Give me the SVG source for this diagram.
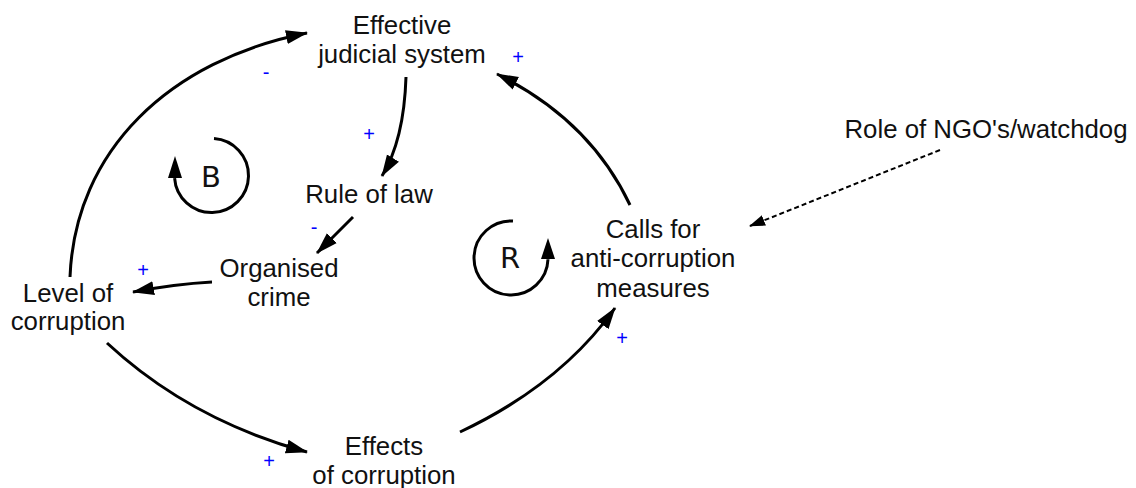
<svg xmlns="http://www.w3.org/2000/svg" width="1136" height="488" viewBox="0 0 1136 488">
<style>
.t{font-family:"Liberation Sans",Arial,sans-serif;font-size:25.8px;fill:#111;text-anchor:middle}
.s{font-family:"Liberation Sans",Arial,sans-serif;font-size:20px;fill:#0000ff;text-anchor:middle}
.c{fill:none;stroke:#000;stroke-width:3}
.d{fill:none;stroke:#000;stroke-width:2;stroke-dasharray:5 3}
.lp{font-family:"DejaVu Sans",sans-serif;font-size:29px;fill:#111;text-anchor:middle}
</style>
<defs>
<marker id="arr" markerUnits="userSpaceOnUse" markerWidth="22" markerHeight="16" viewBox="0 0 22 16" refX="21" refY="8" orient="auto">
<path d="M0,1 L22,8 L0,15 z" fill="#000"/>
</marker>
<marker id="arrs" markerUnits="userSpaceOnUse" markerWidth="16" markerHeight="12" viewBox="0 0 16 12" refX="15" refY="6" orient="auto">
<path d="M0,0.5 L16,6 L0,11.5 z" fill="#000"/>
</marker>
</defs>
<rect width="1136" height="488" fill="#fff"/>
<g id="connectors">
<path class="c" d="M70,277 C75,150 170,60 307,33" marker-end="url(#arr)"/>
<path class="c" d="M406,77 Q404,140 382,176" marker-end="url(#arr)"/>
<path class="c" d="M353,217 L317,253" marker-end="url(#arr)"/>
<path class="c" d="M212,282 Q175,284 133,292" marker-end="url(#arr)"/>
<path class="c" d="M107,343 Q190,420 307,452" marker-end="url(#arr)"/>
<path class="c" d="M460,432 Q560,385 615,308" marker-end="url(#arr)"/>
<path class="c" d="M630,205 Q590,120 497,74" marker-end="url(#arr)"/>
<path class="d" d="M940,150 L750,226" marker-end="url(#arrs)"/>
</g>
<g id="polarities">
<text class="s" x="518" y="64">+</text>
<text class="s" x="266" y="79">-</text>
<text class="s" x="369" y="141">+</text>
<text class="s" x="314" y="234">-</text>
<text class="s" x="143" y="277">+</text>
<text class="s" x="269" y="468">+</text>
<text class="s" x="622" y="345">+</text>
</g>
<g id="node-judicial">
<text class="t" x="402" y="34">Effective</text>
<text class="t" x="402" y="63">judicial system</text>
</g>
<g id="node-rule">
<text class="t" x="369" y="203">Rule of law</text>
</g>
<g id="node-crime">
<text class="t" x="279" y="277">Organised</text>
<text class="t" x="279" y="306">crime</text>
</g>
<g id="node-level">
<text class="t" x="68" y="302">Level of</text>
<text class="t" x="68" y="330">corruption</text>
</g>
<g id="node-effects">
<text class="t" x="384" y="455">Effects</text>
<text class="t" x="384" y="484">of corruption</text>
</g>
<g id="node-calls">
<text class="t" x="653" y="238">Calls for</text>
<text class="t" x="653" y="267">anti-corruption</text>
<text class="t" x="653" y="297">measures</text>
</g>
<g id="node-ngo">
<text class="t" x="986" y="138">Role of NGO's/watchdog</text>
</g>
<g id="loop-B">
<path class="c" d="M214,138.6 A37,37 0 1 1 174.6,178.1" stroke-width="2.5"/>
<path d="M175,156 L168,178 L182,178 z" fill="#000"/>
<text class="lp" x="211" y="187">B</text>
</g>
<g id="loop-R">
<path class="c" d="M513,221 A37,37 0 1 0 548,259.3" stroke-width="2.5"/>
<path d="M548,238 L541,259 L555,259 z" fill="#000"/>
<text class="lp" x="510" y="268">R</text>
</g>
</svg>
